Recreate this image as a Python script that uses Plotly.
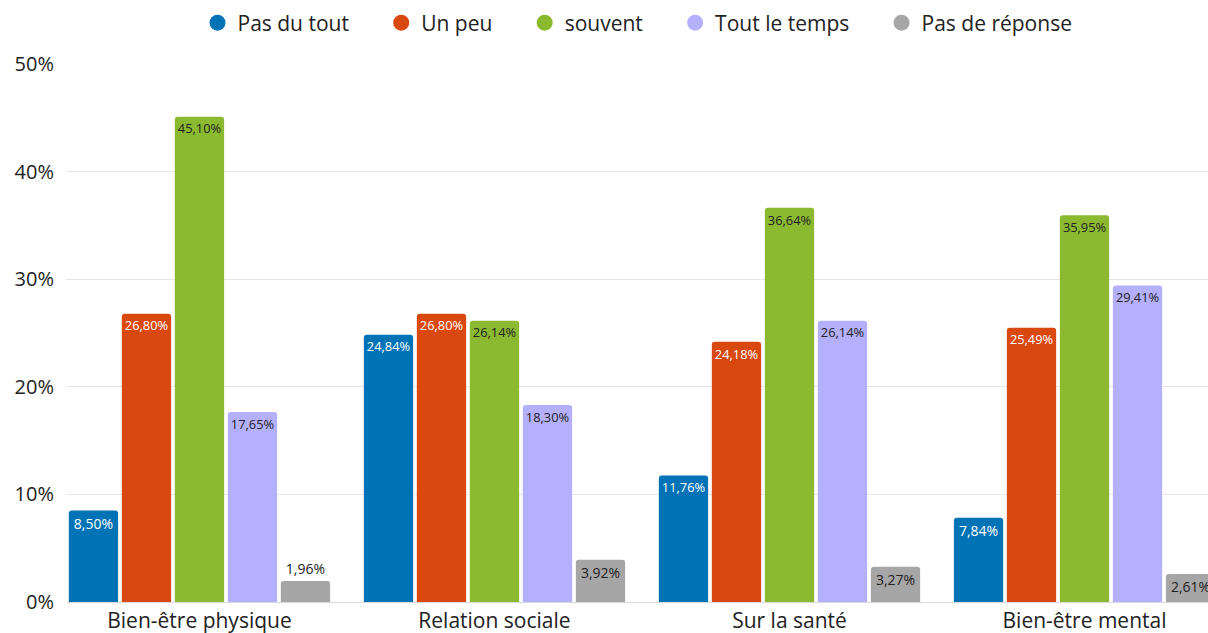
import plotly.graph_objects as go

categories = ["Bien-être physique", "Relation sociale", "Sur la santé", "Bien-être mental"]
series_names = ["Pas du tout", "Un peu", "souvent", "Tout le temps", "Pas de réponse"]
pas_du_tout = [8.50, 24.84, 11.76, 7.84]
un_peu = [26.80, 26.80, 24.18, 25.49]
souvent = [45.10, 26.14, 36.64, 35.95]
tout_le_temps = [17.65, 18.30, 26.14, 29.41]
pas_de_reponse = [1.96, 3.92, 3.27, 2.61]
y_ticks = [0, 10, 20, 30, 40, 50]
y_tick_labels = ["0%", "10%", "20%", "30%", "40%", "50%"]

series_values = [pas_du_tout, un_peu, souvent, tout_le_temps, pas_de_reponse]
colors = ["#0073b7", "#d9480f", "#8bba30", "#b4b0fd", "#a6a6a6"]
text_colors = ["#ffffff", "#ffffff", "#222222", "#222222", "#222222"]

FONT = "Open Sans, Noto Sans, sans-serif"
PAD = "\u00a0" * 5

def fmt(v):
    return f"{v:.2f}".replace(".", ",") + "%"

fig = go.Figure()
for i, (name, vals, col, tcol) in enumerate(zip(series_names, series_values, colors, text_colors)):
    fig.add_trace(go.Bar(
        x=categories, y=vals, name=name,
        marker=dict(color=col, line=dict(width=0)),
        text=[fmt(v) for v in vals],
        textposition=["outside" if v < 2.5 else "inside" for v in vals],
        insidetextanchor="end",
        textangle=0,
        insidetextfont=dict(color=tcol, size=14, family=FONT),
        outsidetextfont=dict(color="#222222", size=14, family=FONT),
        showlegend=False,
        hoverinfo="skip",
    ))
    legend_name = name + (PAD if i < len(series_names) - 1 else "")
    fig.add_trace(go.Scatter(
        x=[None], y=[None], mode="markers", name=legend_name,
        marker=dict(color=col, size=20, symbol="circle"),
        showlegend=True,
    ))

fig.update_layout(
    width=1208, height=633,
    margin=dict(l=67, r=0, t=64, b=31, autoexpand=False),
    paper_bgcolor="white", plot_bgcolor="white",
    barmode="group", bargap=0.1017, bargroupgap=0.07,
    barcornerradius=3,
    font=dict(family=FONT, size=21, color="#222222"),
    uniformtext=dict(mode=False),
    legend=dict(orientation="h", x=0.5, xanchor="center", y=1 + 41 / 538, yanchor="middle",
                font=dict(size=21, color="#222222"), itemclick=False),
    showlegend=True,
)
fig.update_xaxes(
    type="category", range=[-0.449, 3.4186], automargin=False,
    showgrid=False, showline=True, linecolor="#d9d9d9", linewidth=1,
    tickfont=dict(size=21, color="#222222"), ticks="",
)
fig.update_yaxes(
    range=[0, 50], tickvals=y_ticks, ticktext=y_tick_labels, automargin=False,
    showgrid=True, gridcolor="#e6e6e6", gridwidth=1, zeroline=False,
    tickfont=dict(size=20, color="#222222"), ticklabelstandoff=12,
)

fig.write_html(
    "out.html",
    config={"displayModeBar": False},
    post_script="document.body.style.margin='0';document.body.style.overflow='hidden';",
)
